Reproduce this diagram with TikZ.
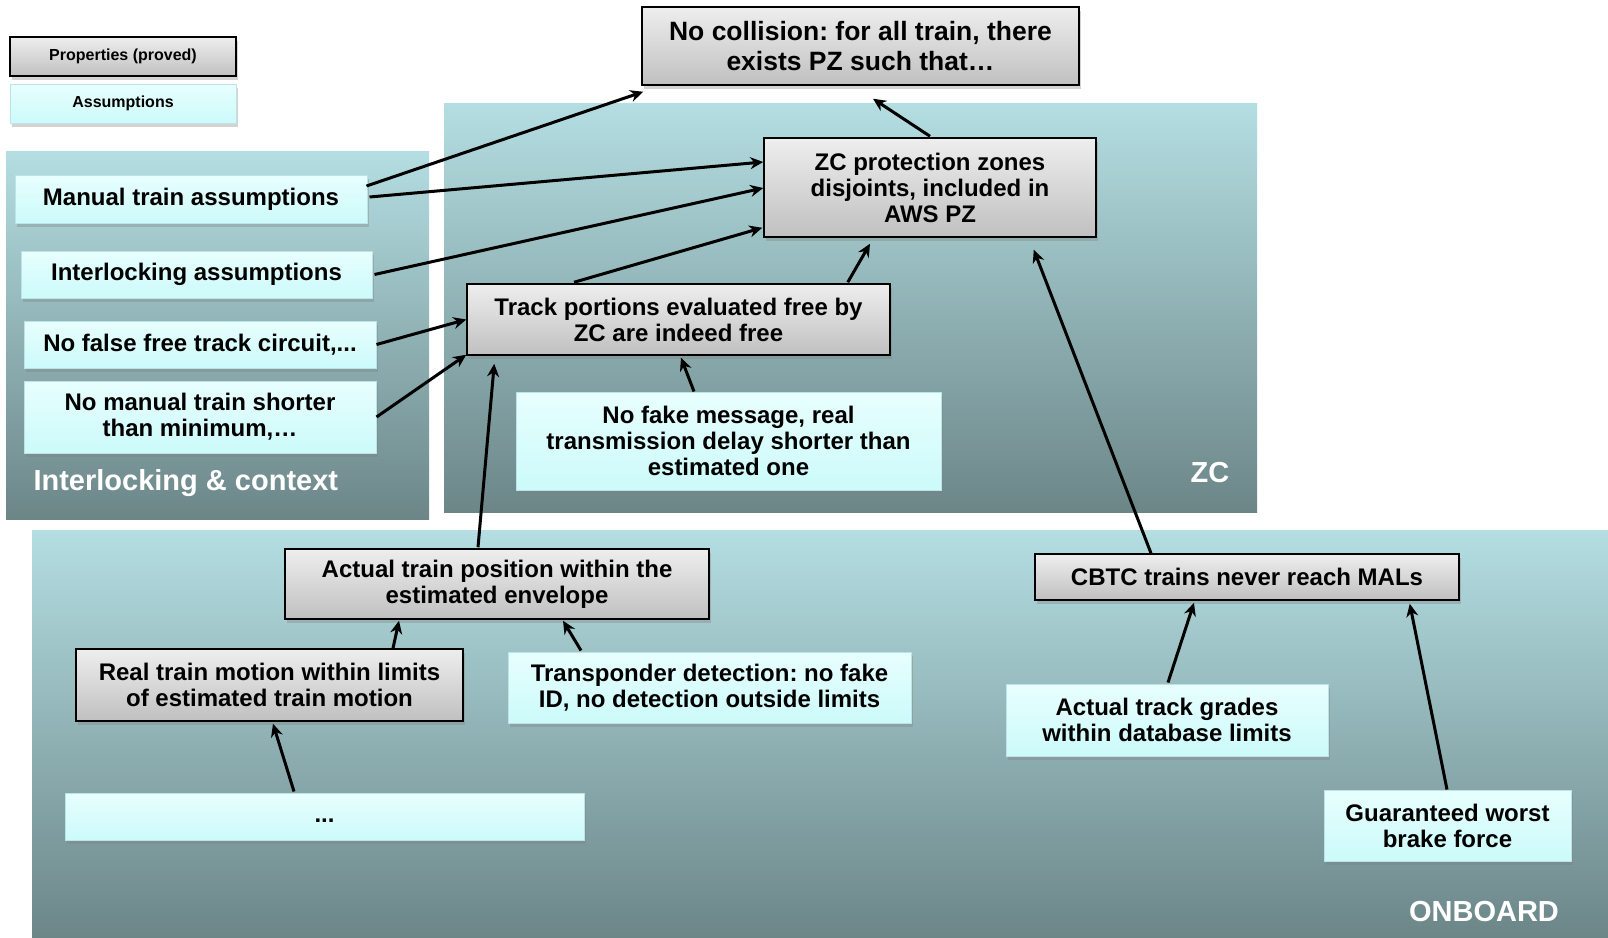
\documentclass[tikz,border=0pt]{standalone}
\usepackage{fontspec}
\setmainfont{Liberation Sans}
\usetikzlibrary{arrows.meta,calc,shadows}
\frenchspacing

\definecolor{regtop}{HTML}{B4DEE2}
\definecolor{regbot}{HTML}{6C8688}
\definecolor{asmtop}{HTML}{E8FEFE}
\definecolor{asmbot}{HTML}{CCFAFA}
\definecolor{asmline}{HTML}{BCE4E6}
\definecolor{prptop}{HTML}{EEEEEE}
\definecolor{prpbot}{HTML}{C0C0C0}

\begin{document}
\begin{tikzpicture}[x=1pt, y=-1pt,
  region/.style={top color=regtop, bottom color=regbot},
  reglbl/.style={text=white, font=\fontsize{29}{32}\selectfont\bfseries},
  sz/.style 2 args={minimum width=#1pt, minimum height=#2pt},
  prop/.style={draw=black, line width=1.5pt, top color=prptop, bottom color=prpbot,
    align=center, inner sep=0pt, font=\fontsize{24}{26}\selectfont\bfseries,
    drop shadow={shadow xshift=2pt, shadow yshift=-4pt, opacity=.35}},
  asm/.style={draw=asmline, line width=1pt, top color=asmtop, bottom color=asmbot,
    align=center, inner sep=0pt, font=\fontsize{24}{26}\selectfont\bfseries,
    drop shadow={shadow xshift=2pt, shadow yshift=-4pt, opacity=.35}},
  arr/.style={-{Stealth[length=13pt,width=12pt]}, line width=3pt}
]
\useasboundingbox (0,0) rectangle (1608,937);

% background zones
\shade[region] (6,151) rectangle (429,519);
\shade[region] (444,103) rectangle (1257,512);
\shade[region] (32,530) rectangle (1608,937);
\node[reglbl, anchor=west] (lblilk) at (30,483) {Interlocking \& context};
\node[reglbl] (lblzc) at (1210,473) {ZC};
\node[reglbl] (lblob) at (1484,912) {ONBOARD};

% legend
\node[prop, sz={226}{39}, font=\fontsize{16}{18}\selectfont\bfseries] (legprop) at (123,56.5) {Properties (proved)};
\node[asm, sz={226}{39}, font=\fontsize{16}{18}\selectfont\bfseries] (legasm) at (123,103.5) {Assumptions};

% properties
\node[prop, sz={437}{78}, font=\fontsize{26.5}{30}\selectfont\bfseries] (goal) at (860.5,46) {No collision: for all train, there\\exists PZ such that\dots};
\node[prop, sz={332}{99}] (zcprot) at (930,187.5) {ZC protection zones\\disjoints, included in\\AWS PZ};
\node[prop, sz={423}{71}] (track) at (678.5,319.5) {Track portions evaluated free by\\ZC are indeed free};
\node[prop, sz={424}{70}] (actpos) at (497,584) {Actual train position within the\\estimated envelope};
\node[prop, sz={387}{72}] (realmot) at (269.5,685) {Real train motion within limits\\of estimated train motion};
\node[prop, sz={424}{46}] (cbtc) at (1247,577) {CBTC trains never reach MALs};

% assumptions
\node[asm, sz={352}{48}] (manual) at (191,199) {Manual train assumptions};
\node[asm, sz={351}{47}] (ilk) at (196.5,274.5) {Interlocking assumptions};
\node[asm, sz={352}{47}] (nofalse) at (200,344.5) {No false free track circuit,...};
\node[asm, sz={352}{72}] (noshort) at (200,417) {No manual train shorter\\than minimum,\dots};
\node[asm, sz={425}{98}] (nofake) at (728.5,441) {No fake message, real\\transmission delay shorter than\\estimated one};
\node[asm, sz={403}{71}] (transp) at (709.5,687.5) {Transponder detection: no fake\\ID, no detection outside limits};
\node[asm, sz={519}{47}] (dots) at (324.5,816.5) {\smash{\raisebox{-6pt}{...}}};
\node[asm, sz={322}{72}] (grades) at (1167,720) {Actual track grades\\within database limits};
\node[asm, sz={247}{71}] (brake) at (1447.5,825.5) {Guaranteed worst\\brake force};

% connectors
\draw[arr] ($(manual.east)+(-1,-13)$) -- ($(goal.south west)+(2,6)$);
\draw[arr] ($(manual.east)+(2,-2)$) -- ($(zcprot.west)+(0,-25.5)$);
\draw[arr] ($(ilk.east)+(2,0)$) -- ($(zcprot.west)+(0,0.5)$);
\draw[arr] ($(track.north)+(-104.5,-1)$) -- ($(zcprot.south west)+(-1,-10)$);
\draw[arr] ($(track.north east)+(-43,-1)$) -- ($(zcprot.south)+(-60,6)$);
\draw[arr] ($(zcprot.north)+(0,-1)$) -- ($(goal.south)+(12.5,13)$);
\draw[arr] (nofalse.east) -- (track.west);
\draw[arr] (noshort.east) -- ($(track.south west)+(0,-1)$);
\draw[arr] ($(actpos.north)+(-19,-1)$) -- ($(track.south west)+(28,8)$);
\draw[arr] ($(nofake.north)+(-34.5,0)$) -- ($(track.south)+(2.5,2)$);
\draw[arr] ($(cbtc.north)+(-96,0)$) -- ($(zcprot.south east)+(-63,12)$);
\draw[arr] ($(realmot.north)+(123.5,0)$) -- ($(actpos.south)+(-98,1)$);
\draw[arr] ($(transp.north)+(-128.5,-1)$) -- ($(actpos.south)+(66,1)$);
\draw[arr] ($(dots.north)+(-30.5,-1)$) -- ($(realmot.south)+(3.5,2)$);
\draw[arr] ($(grades.north)+(1,-1)$) -- ($(cbtc.south)+(-53,2)$);
\draw[arr] ($(brake.north)+(-0.5,0)$) -- ($(cbtc.south east)+(-50,3)$);
\end{tikzpicture}
\end{document}
